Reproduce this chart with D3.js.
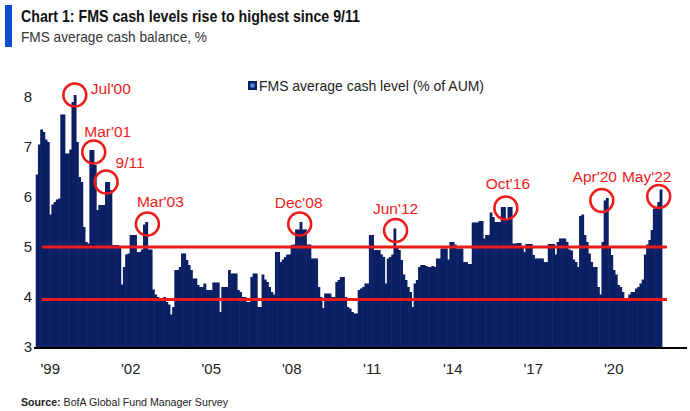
<!DOCTYPE html>
<html><head><meta charset="utf-8">
<script src="https://cdn.jsdelivr.net/npm/d3@7"></script>
<style>
body{margin:0;background:#fff;}
svg{display:block;}
text{font-family:"Liberation Sans",Arial,sans-serif;}
</style></head><body>
<svg id="chart" width="690" height="411"></svg>
<script>
// ---------------- DATA ----------------
const firstMonth = "1999-02";           // first survey month shown
const v1999 = [6.45,7.05,7.35,7.3,7.15,7.1,5.65,5.85,5.9,5.95,5.97];
const v2000 = [7.65,7.65,6.87,6.87,6.95,7.9,8.04,7.1,6.4,6.3,5.4,5.1];
const v2001 = [5.07,6.94,6.94,6.64,5.74,5.84,5.84,5.84,6.3,6.3,6.14,5.04];
const v2002 = [5.04,5.04,5.0,4.25,4.6,4.85,4.87,5.24,5.24,5.24,4.9,4.9];
const v2003 = [4.95,5.45,5.5,4.95,4.95,4.15,4.05,4.0,3.98,3.98,4.0,3.9];
const v2004 = [3.85,3.65,3.8,4.54,4.54,4.6,4.87,4.87,4.74,4.64,4.54,4.37];
const v2005 = [4.37,4.24,4.2,4.2,4.27,4.14,4.14,4.14,4.29,4.29,4.29,3.7];
const v2006 = [4.2,4.2,4.2,4.54,4.47,4.47,4.47,4.14,4.1,4.0,4.0,3.9];
const v2007 = [3.9,4.4,4.47,4.47,3.8,3.8,4.45,4.35,4.3,4.2,4.1,4.05];
const v2008 = [4.9,4.9,4.7,4.75,4.8,4.85,4.85,5.04,5.05,5.35,5.35,5.5];
const v2009 = [5.35,5.35,5.05,5.05,4.77,4.77,4.77,4.2,4.0,3.78,4.07,4.07];
const v2010 = [4.07,4.0,4.0,4.3,4.34,4.4,4.4,4.0,3.8,3.77,3.7,3.67];
const v2011 = [3.67,4.14,4.17,4.2,4.27,4.27,5.24,5.24,4.94,4.94,4.94,4.85];
const v2012 = [4.8,4.27,4.77,4.8,4.85,5.37,5.0,4.94,4.74,4.45,4.34,4.2];
const v2013 = [4.1,3.8,4.27,4.34,4.6,4.64,4.64,4.62,4.6,4.6,4.62,4.6];
const v2014 = [4.77,4.77,4.97,4.97,4.97,4.75,5.1,5.1,5.05,4.97,4.97,4.97];
const v2015 = [4.7,4.7,4.66,4.66,5.49,5.49,5.49,5.52,5.52,5.17,5.24,5.24];
const v2016 = [5.69,5.6,5.5,5.5,5.5,5.8,5.8,5.55,5.8,5.8,5.07,5.07];
const v2017 = [5.08,5.08,5.0,4.9,5.06,5.06,5.06,4.84,4.77,4.77,4.77,4.77];
const v2018 = [4.7,4.7,5.06,5.06,5.06,4.85,5.1,5.17,5.17,5.17,5.1,4.95];
const v2019 = [4.93,4.75,4.7,4.6,5.62,5.65,5.24,5.1,4.87,4.7,4.6,4.6];
const v2020 = [4.2,4.05,5.1,5.93,5.98,5.0,4.84,4.54,4.45,4.24,4.2,4.1];
const v2021 = [3.98,3.93,4.05,4.1,4.1,4.17,4.2,4.27,4.35,4.85,5.05,5.14];
const v2022 = [5.34,5.77,5.8,5.9,6.15];

const yTicks = [3,4,5,6,7,8];
const xTickYears = [1999,2002,2005,2008,2011,2014,2017,2020];
const xTickLabels = ["'99","'02","'05","'08","'11","'14","'17","'20"];
const thresholds = [5.0, 3.95];
const annotations = ["2000-07","2001-03","2001-09","2003-03","2008-12","2012-06","2016-10","2020-04","2022-05"];
const annotationLabels = ["Jul'00","Mar'01","9/11","Mar'03","Dec'08","Jun'12","Oct'16","Apr'20","May'22"];
const seriesName = "FMS average cash level (% of AUM)";
const titleText = "Chart 1: FMS cash levels rise to highest since 9/11";
const subtitleText = "FMS average cash balance, %";

// ---------------- BUILD ----------------
const yearly = [v1999,v2000,v2001,v2002,v2003,v2004,v2005,v2006,v2007,v2008,v2009,v2010,
  v2011,v2012,v2013,v2014,v2015,v2016,v2017,v2018,v2019,v2020,v2021,v2022];
const pad = n => String(n).padStart(2,"0");
const startM = +firstMonth.slice(5) - 1;
const data = [];
yearly.forEach((arr,i)=>{
  const yr = 1999 + i;
  arr.forEach((v,j)=>{
    const mo = (i===0 ? startM + j : j);
    data.push({key:`${yr}-${pad(mo+1)}`, value:v});
  });
});
const allKeys = [];
for (let yr=1999; yr<=2022; yr++) for (let mo=1; mo<=12; mo++) allKeys.push(`${yr}-${pad(mo)}`);

const svg = d3.select("#chart");
const NAVY = "#0b2064", RED = "#ee1b1b";

const x = d3.scaleBand().domain(data.map(d=>d.key)).range([35.7, 661.8]).paddingInner(0).paddingOuter(0);
const xFull = d3.scaleBand().domain(allKeys).range([33.5, 33.5 + allKeys.length*x.bandwidth()]);
const y = d3.scaleLinear().domain([3,8]).range([347,97]);
const byKey = new Map(data.map(d=>[d.key,d.value]));

function fit(sel, w){ sel.attr("textLength",w).attr("lengthAdjust","spacingAndGlyphs"); return sel; }

// title block
svg.append("rect").attr("x",5).attr("y",5).attr("width",7).attr("height",42).attr("fill","#0a4bd0");
fit(svg.append("text").attr("x",21).attr("y",22).attr("font-size",16.5).attr("font-weight","bold")
  .attr("fill","#111").text(titleText), 339);
fit(svg.append("text").attr("x",21).attr("y",42).attr("font-size",15).attr("fill","#333").text(subtitleText), 186);

// bars
svg.append("g").selectAll("rect").data(data).join("rect")
  .attr("x",d=>x(d.key)).attr("width",x.bandwidth()+0.6)
  .attr("y",d=>y(d.value)).attr("height",d=>y(3)-y(d.value))
  .attr("fill",NAVY);

// baseline
svg.append("line").attr("x1",34).attr("x2",687).attr("y1",348).attr("y2",348)
  .attr("stroke","#000").attr("stroke-width",2);

// threshold lines
svg.append("g").selectAll("line").data(thresholds).join("line")
  .attr("x1",42).attr("x2",667).attr("y1",d=>y(d)).attr("y2",d=>y(d))
  .attr("stroke",RED).attr("stroke-width",3);

// y axis
const yAxis = d3.axisLeft(y).tickValues(yTicks).tickSize(0).tickPadding(0).tickFormat(d3.format("d"));
const gy = svg.append("g").attr("transform","translate(32,0)").call(yAxis);
gy.select(".domain").remove();
gy.selectAll("text").attr("font-size",15).attr("fill","#222").attr("font-family",null);

// x axis labels
const gx = svg.append("g");
gx.selectAll("text").data(xTickYears).join("text")
  .attr("x",(d)=>xFull(`${d}-08`)+xFull.bandwidth()/2)
  .attr("y",374).attr("text-anchor","middle").attr("font-size",15).attr("fill","#222")
  .text((d,i)=>xTickLabels[i]);

// legend
svg.append("rect").attr("x",248).attr("y",81).attr("width",9).attr("height",9).attr("fill",NAVY);
svg.append("rect").attr("x",250.5).attr("y",83.5).attr("width",4).attr("height",4).attr("fill","#5b8be0");
fit(svg.append("text").attr("x",259).attr("y",91).attr("font-size",15).attr("fill","#222").text(seriesName), 225);

// annotations: circle offset (cx,cy) from bar top, label centre offset (tx) and baseline offset (ty) from circle centre
const annOffsets = [
  {cx:0,cy:0,tx:36,ty:-1},
  {cx:1,cy:2,tx:14,ty:-15},
  {cx:0,cy:0,tx:24,ty:-14},
  {cx:1,cy:2,tx:13,ty:-17},
  {cx:-1,cy:2,tx:-1,ty:-16},
  {cx:1,cy:2,tx:0,ty:-17},
  {cx:-5,cy:1,tx:2,ty:-19},
  {cx:-3,cy:0,tx:-7,ty:-18.5},
  {cx:-2,cy:7,tx:-12,ty:-14.5}
];
const ann = svg.append("g");
annotations.forEach((k,i)=>{
  const o = annOffsets[i];
  const cx = x(k)+x.bandwidth()/2 + o.cx, cy = y(byKey.get(k)) + o.cy;
  ann.append("circle").attr("cx",cx).attr("cy",cy).attr("r",11.5)
    .attr("fill","none").attr("stroke",RED).attr("stroke-width",2.5);
  ann.append("text").attr("x",cx+o.tx).attr("y",cy+o.ty).attr("text-anchor","middle")
    .attr("font-size",15.5).attr("fill",RED).text(annotationLabels[i]);
});

// source
const src = fit(svg.append("text").attr("x",21).attr("y",406).attr("font-size",11.5).attr("fill","#222"), 207);
src.append("tspan").attr("font-weight","bold").text("Source:");
src.append("tspan").text("  BofA Global Fund Manager Survey");
</script>
</body></html>
